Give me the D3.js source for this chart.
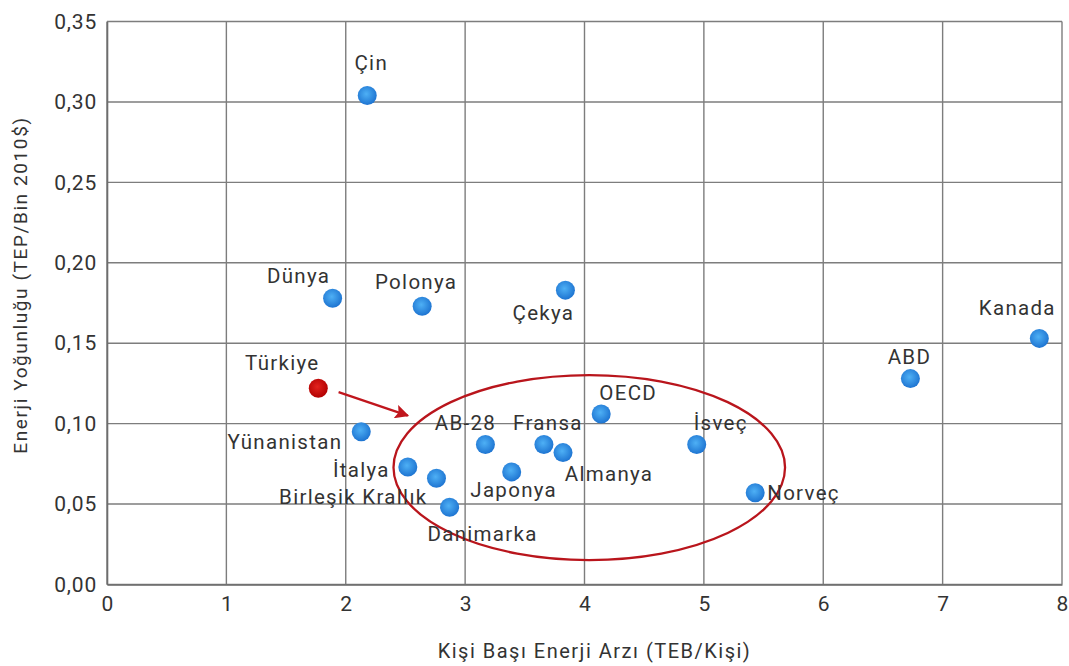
<!DOCTYPE html>
<html>
<head>
<meta charset="utf-8">
<script src="https://cdn.jsdelivr.net/npm/d3@7"></script>
<style>
  body { margin: 0; background: #fff; }
  svg text { font-family: Roboto, "DejaVu Sans", sans-serif; fill: #333; }
</style>
</head>
<body>
<svg id="chart" width="1069" height="666"></svg>
<script>
// country names, per-capita supply (TEB/person), intensity (TEP/1000 $2010)
const countries = ["Çin", "Dünya", "Polonya", "Çekya", "Kanada", "ABD", "Türkiye", "OECD", "İsveç",
  "Yünanistan", "AB-28", "Fransa", "Almanya", "Japonya", "İtalya", "Birleşik Krallık", "Danimarka", "Norveç"];
const supply = [2.18, 1.89, 2.64, 3.84, 7.81, 6.73, 1.77, 4.14, 4.94,
  2.13, 3.17, 3.66, 3.82, 3.39, 2.52, 2.76, 2.87, 5.43];
const intensity = [0.304, 0.178, 0.173, 0.183, 0.153, 0.128, 0.122, 0.106, 0.087,
  0.095, 0.087, 0.087, 0.082, 0.070, 0.073, 0.066, 0.048, 0.057];
const highlight = "Türkiye";

const xTicks = [0, 1, 2, 3, 4, 5, 6, 7, 8];
const yTicks = [0, 0.05, 0.10, 0.15, 0.20, 0.25, 0.30, 0.35];

// label placement relative to each dot: [dx, dy, anchor]
const labelPos = [
  [4, -33, "middle"], [-34, -23, "middle"], [-6, -25, "middle"], [-22, 22, "middle"],
  [-22, -31, "middle"], [-1, -22, "middle"], [-36, -26, "middle"], [27, -21, "middle"],
  [24, -22, "middle"], [-19, 10, "end"], [-20, -22, "middle"], [4, -22, "middle"],
  [46, 21, "middle"], [2, 18, "middle"], [-18, 3, "end"], [-9, 18, "end"],
  [33, 26, "middle"], [12, 0, "start"]
];

const width = 1069;
const height = 666;
const margin = { top: 21.5, right: 7, bottom: 81.5, left: 107 };
const innerWidth = width - margin.left - margin.right;
const innerHeight = height - margin.top - margin.bottom;

const svg = d3.select("#chart");
const defs = svg.append("defs");

function ballGradient(id, light, dark) {
  const g = defs.append("radialGradient").attr("id", id)
    .attr("cx", "45%").attr("cy", "42%").attr("r", "60%");
  g.append("stop").attr("offset", "0%").attr("stop-color", light);
  g.append("stop").attr("offset", "100%").attr("stop-color", dark);
}
ballGradient("blueBall", "#4eb0f5", "#1c72d0");
ballGradient("redBall", "#e3231f", "#b00000");

defs.append("marker")
  .attr("id", "arrowHead")
  .attr("viewBox", "0 0 10 10")
  .attr("refX", 9).attr("refY", 5)
  .attr("markerWidth", 16).attr("markerHeight", 14)
  .attr("markerUnits", "userSpaceOnUse")
  .attr("orient", "auto")
  .append("path").attr("d", "M0,0 L10,5 L0,10 L2,5 Z").attr("fill", "#c0161d");

const g = svg.append("g").attr("transform", `translate(${margin.left},${margin.top})`);

const x = d3.scaleLinear().domain([0, 8]).range([0, innerWidth]);
const y = d3.scaleLinear().domain([0, 0.35]).range([innerHeight, 0]);

// grid
g.append("g").selectAll("line").data(xTicks).join("line")
  .attr("x1", (d) => x(d)).attr("x2", (d) => x(d))
  .attr("y1", 0).attr("y2", innerHeight)
  .attr("stroke", "#7d7d7d").attr("stroke-width", 1.4);
g.append("g").selectAll("line").data(yTicks).join("line")
  .attr("x1", 0).attr("x2", innerWidth)
  .attr("y1", (d) => y(d)).attr("y2", (d) => y(d))
  .attr("stroke", "#7d7d7d").attr("stroke-width", 1.4);

// axes
const fmt = (d) => d3.format(".2f")(d).replace(".", ",");
const xAxis = g.append("g").attr("transform", `translate(0,${innerHeight})`)
  .call(d3.axisBottom(x).tickValues(xTicks).tickSize(0).tickPadding(12).tickFormat(d3.format("d")));
const yAxis = g.append("g")
  .call(d3.axisLeft(y).tickValues(yTicks).tickSize(0).tickPadding(10).tickFormat(fmt));
[xAxis, yAxis].forEach((a) => {
  a.select(".domain").attr("stroke", "#6d6d6d").attr("stroke-width", 1.6);
  a.selectAll("text").attr("font-size", 21).attr("fill", "#333")
    .attr("font-family", "Roboto, sans-serif");
});
yAxis.selectAll("text").attr("letter-spacing", 0.8);

g.append("text")
  .attr("x", innerWidth / 2 + 10).attr("y", innerHeight + 73)
  .attr("text-anchor", "middle").attr("font-size", 20)
  .attr("letter-spacing", 1.5)
  .text("Kişi Başı Enerji Arzı (TEB/Kişi)");

g.append("text")
  .attr("transform", "rotate(-90)")
  .attr("x", -innerHeight / 2 + 18).attr("y", -80)
  .attr("text-anchor", "middle").attr("font-size", 19)
  .attr("letter-spacing", 1.6)
  .text("Enerji Yoğunluğu (TEP/Bin 2010$)");

// annotation: ellipse around the comparison group and arrow from Türkiye
g.append("ellipse")
  .attr("cx", x(4.04)).attr("cy", y(0.0727))
  .attr("rx", x(1.64) - x(0)).attr("ry", y(0) - y(0.0575))
  .attr("fill", "none").attr("stroke", "#b9151c").attr("stroke-width", 2.3);

g.append("line")
  .attr("x1", x(1.94)).attr("y1", y(0.1196))
  .attr("x2", x(2.52)).attr("y2", y(0.105))
  .attr("stroke", "#c0161d").attr("stroke-width", 2.2)
  .attr("marker-end", "url(#arrowHead)");

const points = countries.map((name, i) => ({
  name, x: supply[i], y: intensity[i], lp: labelPos[i]
}));

g.append("g").selectAll("circle").data(points).join("circle")
  .attr("cx", (d) => x(d.x)).attr("cy", (d) => y(d.y)).attr("r", 9.5)
  .attr("fill", (d) => d.name === highlight ? "url(#redBall)" : "url(#blueBall)");

g.append("g").selectAll("text").data(points).join("text")
  .attr("x", (d) => x(d.x) + d.lp[0])
  .attr("y", (d) => y(d.y) + d.lp[1])
  .attr("dy", "0.36em")
  .attr("text-anchor", (d) => d.lp[2])
  .attr("font-size", 20.5)
  .attr("letter-spacing", 1.3)
  .text((d) => d.name);
</script>
</body>
</html>
